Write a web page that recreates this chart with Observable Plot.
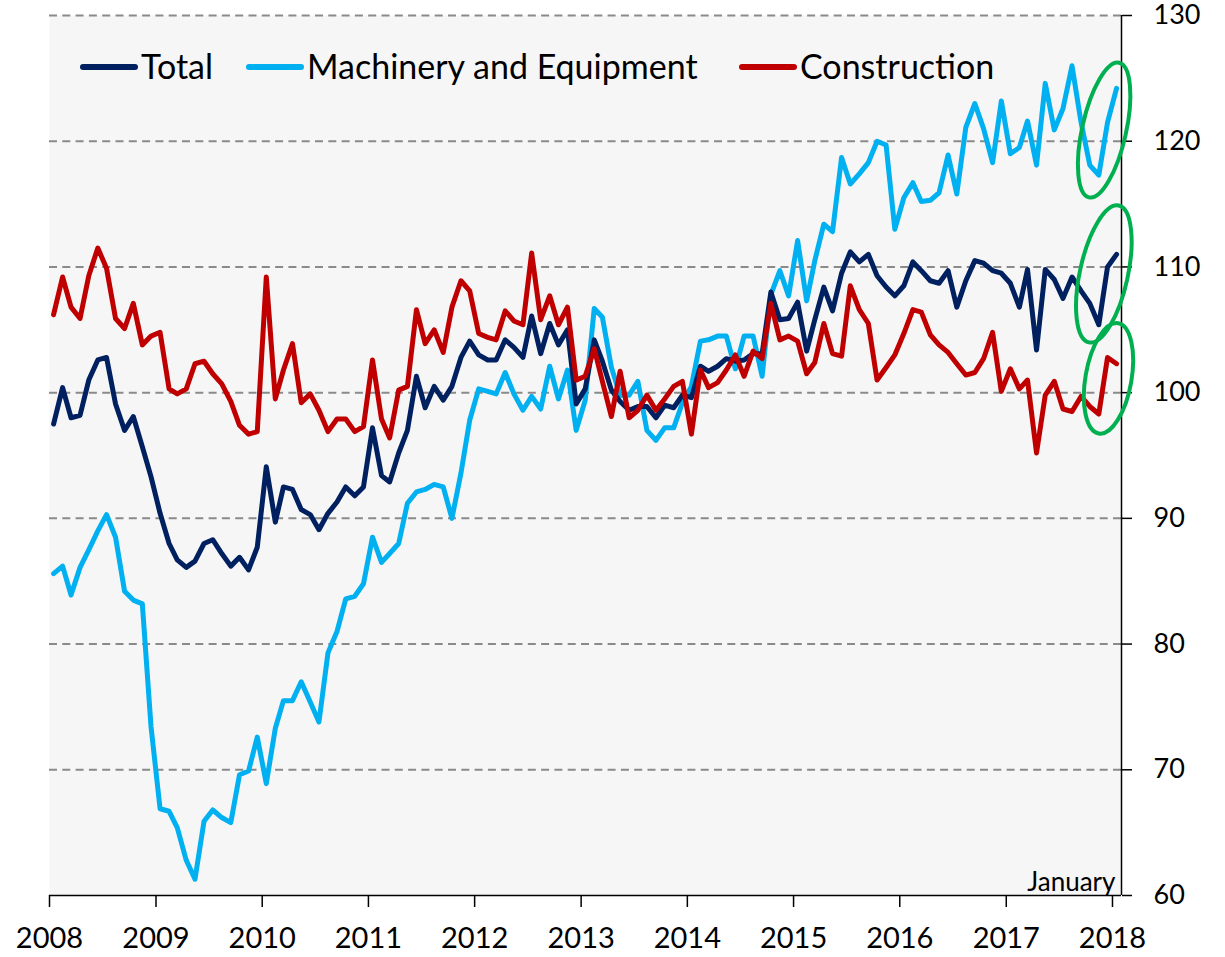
<!DOCTYPE html>
<html><head><meta charset="utf-8">
<script src="https://cdn.jsdelivr.net/npm/d3@7"></script>
<script src="https://cdn.jsdelivr.net/npm/@observablehq/plot@0.6"></script>
<style>html,body{margin:0;padding:0;background:#fff;} #chart{width:1225px;height:957px;}</style>
</head><body><div id="chart"></div>
<script>
// Monthly index values, January 2008 – January 2018
const startYear = 2008;
const total = [97.5,100.4,98.0,98.2,101.0,102.6,102.8,99.1,97.0,98.1,95.7,93.3,
  90.4,88.0,86.7,86.1,86.6,88.0,88.3,87.2,86.2,86.9,85.9,87.7,
  94.1,89.7,92.5,92.3,90.7,90.3,89.1,90.4,91.3,92.5,91.8,92.5,
  97.2,93.4,92.9,95.2,97.0,101.3,98.8,100.5,99.4,100.5,102.8,104.1,
  103.0,102.6,102.6,104.2,103.6,102.8,106.1,103.1,105.5,103.8,105.0,99.1,
  100.3,104.2,102.5,100.2,99.3,98.6,98.9,98.9,98.0,99.0,98.8,99.8,
  99.6,102.1,101.7,102.1,102.7,102.5,102.6,103.1,103.1,108.0,105.8,105.9,
  107.2,103.3,105.8,108.4,106.5,109.5,111.2,110.4,111.0,109.3,108.4,107.7,
  108.5,110.4,109.7,108.9,108.7,109.7,106.8,108.9,110.5,110.3,109.7,109.5,
  108.7,106.8,109.8,103.4,109.8,109.0,107.5,109.2,108.1,107.1,105.4,110.0,
  111.0];
const machinery = [85.6,86.2,83.9,86.1,87.5,89.0,90.3,88.5,84.2,83.5,83.2,73.4,
  66.9,66.7,65.4,62.8,61.3,65.9,66.8,66.2,65.8,69.6,69.9,72.6,
  68.9,73.3,75.5,75.5,77.0,75.4,73.8,79.3,81.0,83.6,83.8,84.8,
  88.5,86.5,87.2,88.0,91.2,92.1,92.3,92.7,92.5,90.0,93.6,97.8,
  100.3,100.1,99.9,101.6,99.9,98.6,99.7,98.7,102.1,99.5,101.8,97.0,
  99.4,106.7,106.0,102.0,99.8,99.8,100.9,97.0,96.2,97.2,97.2,99.2,
  100.5,104.1,104.2,104.5,104.5,101.9,104.5,104.5,101.3,107.8,109.7,107.7,
  112.1,107.3,110.5,113.4,112.8,118.7,116.6,117.4,118.3,120.0,119.7,113.0,
  115.5,116.7,115.2,115.3,115.9,118.9,115.8,121.1,123.0,121.0,118.3,123.2,
  119.0,119.5,121.6,118.1,124.6,120.9,122.6,126.0,121.5,118.1,117.3,121.5,
  124.2];
const construction = [106.2,109.2,106.8,105.9,109.3,111.5,109.9,105.9,105.1,107.1,103.8,104.5,
  104.8,100.3,99.9,100.3,102.3,102.5,101.5,100.7,99.3,97.4,96.7,96.9,
  109.2,99.5,101.8,103.9,99.2,99.9,98.6,96.9,97.9,97.9,96.9,97.3,
  102.6,97.9,96.4,100.2,100.5,106.6,103.9,105.0,103.2,106.8,108.9,108.1,
  104.7,104.4,104.2,106.5,105.7,105.4,111.1,105.8,107.7,105.4,106.8,101.0,
  101.3,103.5,100.9,98.1,101.7,98.0,98.6,99.8,98.6,99.5,100.5,100.9,
  96.7,101.8,100.4,100.8,101.8,103.0,101.3,103.3,102.7,107.1,104.2,104.5,
  104.1,101.5,102.4,105.5,103.1,102.9,108.5,106.6,105.5,101.0,102.0,103.0,
  104.7,106.6,106.4,104.6,103.8,103.2,102.3,101.4,101.6,102.7,104.8,100.1,
  101.9,100.3,101.0,95.2,99.8,100.9,98.7,98.5,99.7,98.9,98.3,102.8,
  102.3];

const seriesNames = ["Total", "Machinery and Equipment", "Construction"];
const seriesColors = ["#002060", "#00B0F0", "#C00000"];
const yearTicks = [2008,2009,2010,2011,2012,2013,2014,2015,2016,2017,2018];
const yTicks = [60,70,80,90,100,110,120,130];
const gridValues = [70,80,90,100,110,120,130];
const noteText = "January";
// highlight ellipses around the latest observations (centre in data units)
const highlights = [
  {date: "2017-12-05", value: 120.85, rx: 22, ry: 69, angle: 12.6},
  {date: "2017-12-04", value: 109.4, rx: 24, ry: 70, angle: 12.3},
  {date: "2017-12-20", value: 101.1, rx: 23, ry: 56, angle: 10}
];
// legend item left positions (px) inside the plot frame
const legendX = [83, 249, 742];

const monthDate = i => new Date(Date.UTC(startYear, i, 15));
const toRows = arr => arr.map((v, i) => ({date: monthDate(i), value: v}));
const rowsTotal = toRows(total), rowsMach = toRows(machinery), rowsCons = toRows(construction);
const xStart = new Date(Date.UTC(startYear, 0, 1));
const xEnd = new Date(Date.UTC(yearTicks[yearTicks.length - 1], 1, 1));
const yearDates = yearTicks.map(y => new Date(Date.UTC(y, 0, 1)));

const lineOpts = (color) => ({x: "date", y: "value", stroke: color, strokeWidth: 5, strokeLinejoin: "round", strokeLinecap: "round"});

const plot = Plot.plot({
  width: 1225, height: 957,
  marginTop: 15, marginBottom: 62, marginLeft: 49, marginRight: 104,
  style: {fontFamily: "Lato, 'Open Sans', sans-serif", color: "#000", background: "#fff", overflow: "visible"},
  x: {type: "utc", domain: [xStart, xEnd]},
  y: {domain: [60, 130]},
  marks: [
    Plot.frame({fill: "#f6f6f6", stroke: null}),
    Plot.ruleY(gridValues, {stroke: "#8a8a8a", strokeWidth: 2, strokeDasharray: "8,5.3"}),
    Plot.line(rowsMach, lineOpts(seriesColors[1])),
    Plot.line(rowsTotal, lineOpts(seriesColors[0])),
    Plot.line(rowsCons, lineOpts(seriesColors[2])),
    Plot.ruleY([60], {stroke: "#000", strokeWidth: 1.5}),
    Plot.ruleX([xEnd], {stroke: "#000", strokeWidth: 1.5}),
    Plot.axisY(yTicks, {anchor: "right", tickSize: 10, tickPadding: 22, fontSize: 27, strokeWidth: 1.5, label: null}),
    Plot.axisX(yearDates, {anchor: "bottom", tickSize: 12, tickPadding: 20, fontSize: 29, strokeWidth: 1.5,
      tickFormat: d => String(d.getUTCFullYear()), label: null}),
    Plot.text([noteText], {text: d => d, frameAnchor: "bottom-right", textAnchor: "end", lineAnchor: "bottom", dx: -6, dy: -5, fontSize: 26})
  ]
});
document.getElementById("chart").appendChild(plot);

const svg = d3.select(plot);
// legend
const lg = svg.append("g").attr("font-family", "Lato, 'Open Sans', sans-serif").attr("font-size", 34).attr("text-anchor", "start");
const ly = 67;
seriesNames.forEach((name, k) => {
  const lx = legendX[k];
  lg.append("line").attr("x1", lx).attr("x2", lx + 52).attr("y1", ly).attr("y2", ly)
    .attr("stroke", seriesColors[k]).attr("stroke-width", 6).attr("stroke-linecap", "round");
  lg.append("text").attr("x", lx + 58).attr("y", ly).attr("dy", "0.35em").attr("text-anchor", "start").attr("fill", "#000").text(name);
});
// highlight ellipses
const sx = plot.scale("x"), sy = plot.scale("y");
highlights.forEach(h => {
  const cx = sx.apply(new Date(h.date)), cy = sy.apply(h.value);
  svg.append("ellipse").attr("cx", cx).attr("cy", cy).attr("rx", h.rx).attr("ry", h.ry)
    .attr("transform", `rotate(${h.angle} ${cx} ${cy})`)
    .attr("fill", "none").attr("stroke", "#00B050").attr("stroke-width", 4);
});
</script>
</body></html>
